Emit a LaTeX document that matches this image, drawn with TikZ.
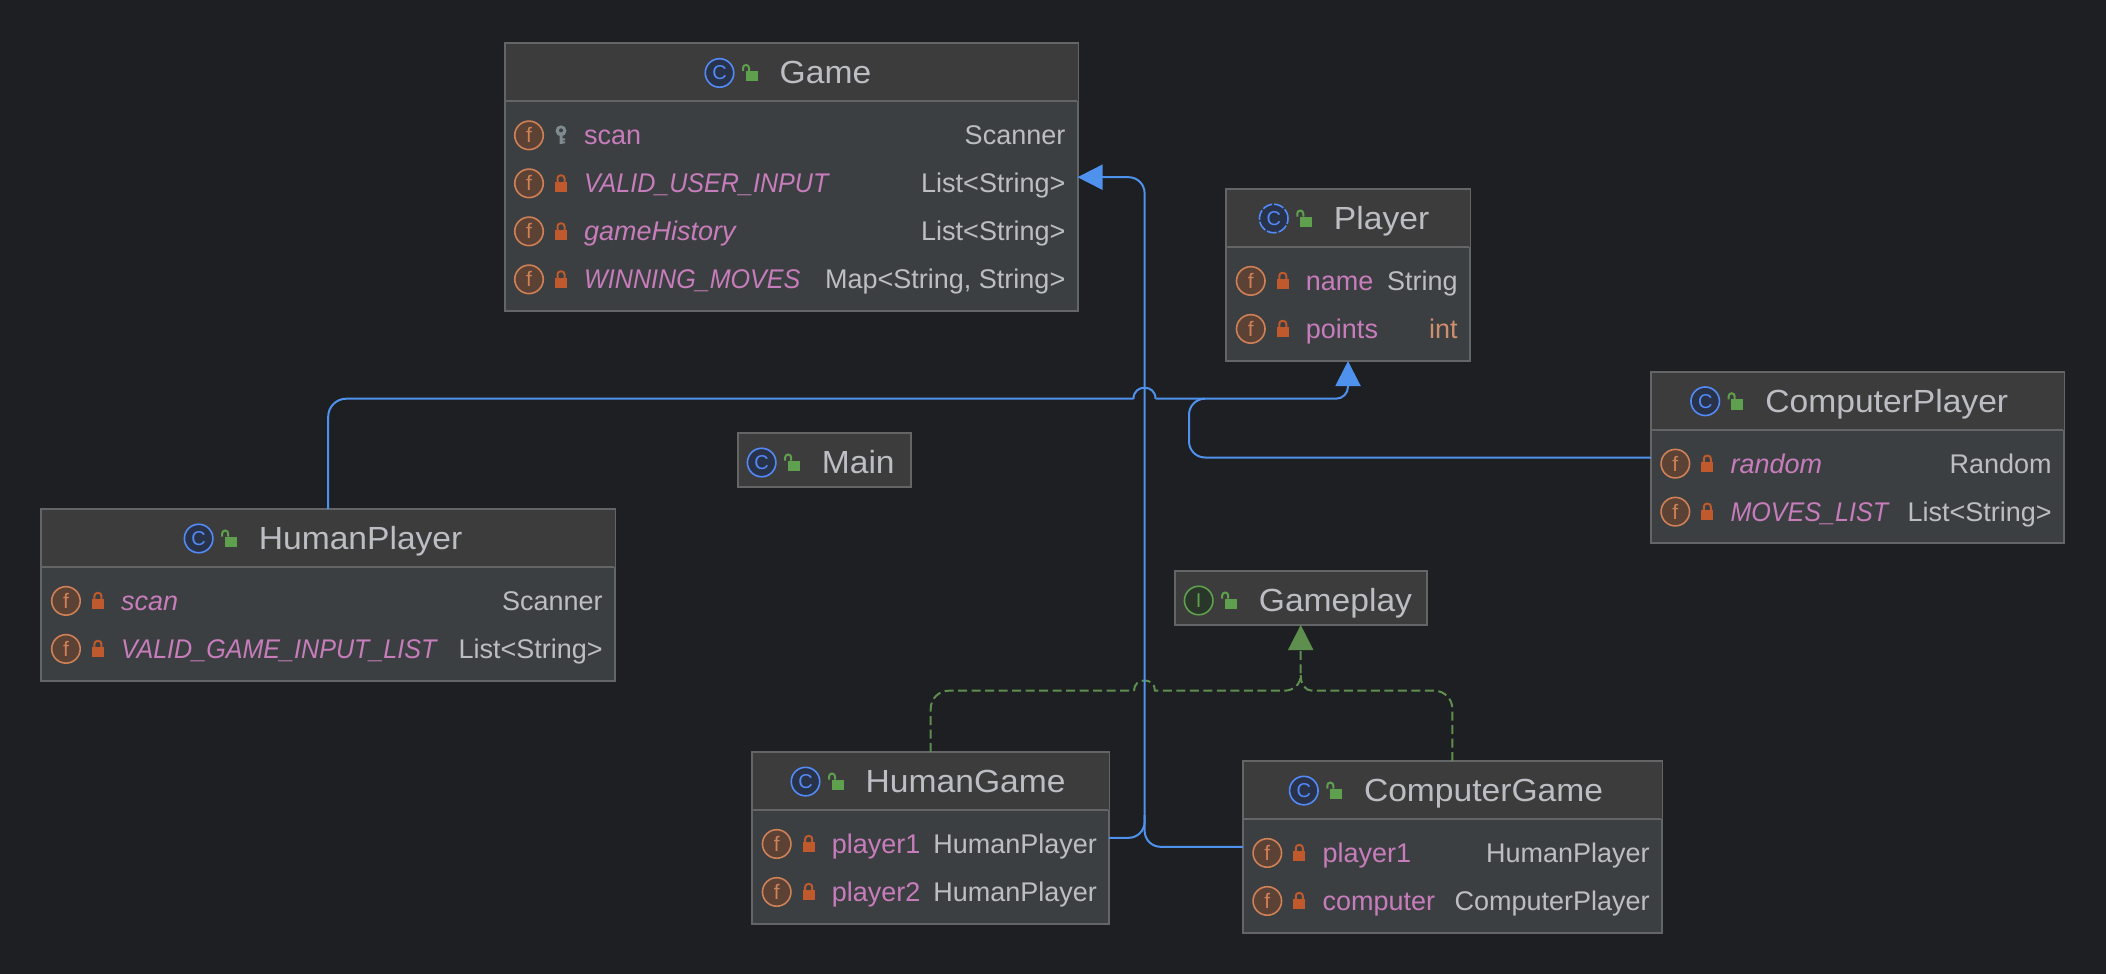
\documentclass[tikz,border=0pt]{standalone}
\usepackage{fontspec}
\setmainfont{Liberation Sans}
\newfontface\titleface{Liberation Sans}[FakeStretch=1.05]
\newfontface\capsface{Liberation Sans Italic}[FakeStretch=0.93]
\usetikzlibrary{arrows.meta}
\definecolor{bgdark}{HTML}{1E1F22}
\definecolor{headfill}{HTML}{3C3C3C}
\definecolor{bodyfill}{HTML}{3C3F41}
\definecolor{edgegrey}{HTML}{646566}
\definecolor{textgrey}{HTML}{BCBEC4}
\definecolor{fieldpink}{HTML}{C77DBB}
\definecolor{intorange}{HTML}{CF8E6D}
\definecolor{linkblue}{HTML}{4E92EE}
\definecolor{linkgreen}{HTML}{5E8F4E}
\definecolor{iconblue}{HTML}{548AF7}
\definecolor{icongreen}{HTML}{5FA04E}
\definecolor{lockred}{HTML}{C0592B}
\definecolor{ringorange}{HTML}{CE8157}
\definecolor{keygrey}{HTML}{7F8B91}
\tikzset{
 classbox/.style={draw=edgegrey, line width=2pt, fill=bodyfill, outer sep=0, inner sep=0},
 headbox/.style={classbox, fill=headfill},
 titletext/.style={text=textgrey, font=\titleface\fontsize{32}{36}\selectfont, inner sep=0, anchor=base west},
 fieldtext/.style={text=fieldpink, font=\fontsize{27}{30}\selectfont, inner sep=0, anchor=base west},
 typetext/.style={text=textgrey, font=\fontsize{27}{30}\selectfont, inner sep=0, anchor=base east},
 ficon/.style={circle, draw=ringorange, fill=ringorange!35!bgdark, line width=1.6pt, minimum size=28.5pt, inner sep=0, text=ringorange, font=\fontsize{21}{21}\selectfont},
 cicon/.style={circle, draw=iconblue, fill=iconblue!18!bgdark, line width=1.6pt, minimum size=28.5pt, inner sep=0, text=iconblue, font=\fontsize{20}{20}\selectfont},
 aicon/.style={cicon, dash pattern=on 10pt off 2pt},
 iicon/.style={cicon, draw=icongreen, fill=icongreen!18!bgdark, text=icongreen},
 bluelink/.style={draw=linkblue, line width=2pt},
 greenlink/.style={draw=linkgreen, line width=2pt, dash pattern=on 9pt off 4.5pt},
 linkhead/.style={-{Triangle[length=25pt,width=25pt]}},
 lockshut/.pic={
  \fill[lockred] (-6,-1.5) rectangle (6,8.5);
  \draw[lockred, line width=2pt, rounded corners=3pt] (-3.5,-1.5) -- (-3.5,-8) -- (3.5,-8) -- (3.5,-1.5);
 },
 lockopen/.pic={
  \fill[icongreen] (-4,-2) rectangle (8,8.5);
  \draw[icongreen, line width=2pt, rounded corners=3pt] (-6.5,-2) -- (-6.5,-8) -- (-0.5,-8) -- (-0.5,-2);
 },
 lockkey/.pic={
  \fill[keygrey] (0,-4.5) circle (5.5);
  \fill[bodyfill] (0,-5) circle (2);
  \fill[keygrey] (-1.5,0) rectangle (1.5,8.5) (1.5,3) rectangle (4,5) (1.5,6) rectangle (4,8);
 }
}
% #1 box, #2 icon style, #3 icon letter, #4 icon offset, #5 name
\newcommand{\classtitle}[5]{
 \path (#1.north west) ++(#4,29.5) node[#2] (#1-icon) {#3} ++(30,0) pic {lockopen} ++(30,11) node[titletext] (#1-title) {#5};
}
% #1 box, #2 row, #3 lock, #4 field, #5 type
\newcommand{\classfield}[5]{
 \path (#1.north west) ++(24.5,{43.9+48*#2}) node[ficon] (#1-f#2) {f} ++(32,0) pic {#3} ++(23,9.5) node[fieldtext] (#1-n#2) {#4};
 \path (#1.north east) ++(-12,{53.4+48*#2}) node[typetext] (#1-t#2) {#5};
}
\newcommand{\classhead}[1]{
 \fill[headfill] (#1.north west) ++(1,1) rectangle ([yshift=-58pt]#1.north east);
 \draw[edgegrey, line width=2pt] (#1.north west) ++(1,58) -- ([xshift=-1pt,yshift=-58pt]#1.north east);
}
\begin{document}
\begin{tikzpicture}[x=1pt,y=-1pt]
\path[use as bounding box, fill=bgdark] (0,0) rectangle (2106,974);

\node[classbox, minimum width=573pt, minimum height=267.5pt] (game) at (791,177.2) {};
\node[classbox, minimum width=243.5pt, minimum height=172pt] (player) at (1348,275) {};
\node[classbox, minimum width=413pt, minimum height=171.5pt] (cplayer) at (1857.3,457.5) {};
\node[classbox, minimum width=573.5pt, minimum height=172pt] (hplayer) at (328.2,595) {};
\node[classbox, minimum width=357pt, minimum height=171.5pt] (hgame) at (930.7,837.8) {};
\node[classbox, minimum width=419pt, minimum height=171.5pt] (cgame) at (1452.3,846.8) {};
\node[headbox, minimum width=172.5pt, minimum height=54pt] (main) at (824.6,460) {};
\node[headbox, minimum width=252pt, minimum height=54pt] (gameplay) at (1300.7,598) {};
\coordinate (vmerge) at (1144.6,815);
\coordinate (bjumpL) at (1133.5,398.7);
\coordinate (bjumpR) at (1155.5,398.7);
\coordinate (bmerge) at (1205,398.7);
\coordinate (gjumpL) at (1134,690.7);
\coordinate (gjumpR) at (1155,690.7);
\coordinate (gjoinL) at (1284,690.7);
\coordinate (gjoinR) at (1312,690.7);
\coordinate (gpeak) at (1300.7,675);

\classhead{game}
\classhead{player}
\classhead{cplayer}
\classhead{hplayer}
\classhead{hgame}
\classhead{cgame}

\classtitle{game}{cicon}{C}{215}{Game}
\classtitle{player}{aicon}{C}{47.5}{Player}
\classtitle{cplayer}{cicon}{C}{54.4}{ComputerPlayer}
\classtitle{hplayer}{cicon}{C}{157.2}{HumanPlayer}
\classtitle{hgame}{cicon}{C}{53.3}{HumanGame}
\classtitle{cgame}{cicon}{C}{61}{ComputerGame}
\classtitle{main}{cicon}{C}{23.3}{Main}
\classtitle{gameplay}{iicon}{I}{24}{Gameplay}

\classfield{game}{1}{lockkey}{scan}{Scanner}
\classfield{game}{2}{lockshut}{\capsface VALID\_USER\_INPUT}{List<String>}
\classfield{game}{3}{lockshut}{\textit{gameHistory}}{List<String>}
\classfield{game}{4}{lockshut}{\capsface WINNING\_MOVES}{Map<String, String>}
\classfield{player}{1}{lockshut}{name}{String}
\classfield{player}{2}{lockshut}{points}{\textcolor{intorange}{int}}
\classfield{cplayer}{1}{lockshut}{\textit{random}}{Random}
\classfield{cplayer}{2}{lockshut}{\capsface MOVES\_LIST}{List<String>}
\classfield{hplayer}{1}{lockshut}{\textit{scan}}{Scanner}
\classfield{hplayer}{2}{lockshut}{\capsface VALID\_GAME\_INPUT\_LIST}{List<String>}
\classfield{hgame}{1}{lockshut}{player1}{HumanPlayer}
\classfield{hgame}{2}{lockshut}{player2}{HumanPlayer}
\classfield{cgame}{1}{lockshut}{player1}{HumanPlayer}
\classfield{cgame}{2}{lockshut}{computer}{ComputerPlayer}

% realizations
\draw[greenlink, rounded corners=18pt] (cgame.north) |- (gjoinR);
\draw[greenlink] (gjoinR) .. controls (1305,690.7) and (1300.7,684) .. (gpeak);
\draw[greenlink, rounded corners=18pt] (hgame.north) |- (gjumpL);
\draw[greenlink, linkhead] (gjumpL) .. controls (1134,677) and (1155,677) .. (gjumpR) -- (gjoinL) .. controls (1294,690.7) and (1300.7,684) .. (gpeak) -- (gameplay.south);

% extends
\draw[bluelink, rounded corners=16pt] (cgame.west) -| (vmerge);
\draw[bluelink, rounded corners=16pt, linkhead] (hgame.east) -- (hgame.east -| vmerge) -- (game.east -| vmerge) -- (game.east);
\draw[bluelink, rounded corners=16pt] (cplayer.west) -| (1189,398.7) -- (bmerge);
\draw[bluelink, rounded corners=18pt] (hplayer.north) |- (bjumpL);
\draw[bluelink] (bjumpL) .. controls (1133.5,384) and (1155.5,384) .. (bjumpR);
\draw[bluelink, rounded corners=12pt, linkhead] (bjumpR) -| (player.south);
\end{tikzpicture}
\end{document}
